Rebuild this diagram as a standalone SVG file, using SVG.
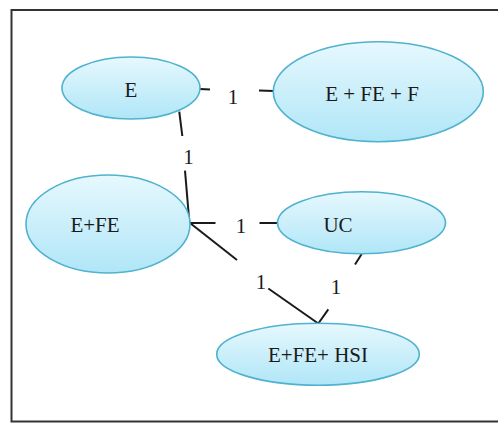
<svg xmlns="http://www.w3.org/2000/svg" width="498" height="424" viewBox="0 0 498 424">
  <defs>
    <linearGradient id="nodeFill" x1="0" y1="0" x2="0" y2="1">
      <stop offset="0" stop-color="#e6f8fe"/>
      <stop offset="1" stop-color="#b0e6f7"/>
    </linearGradient>
    <style>
      .node { fill: url(#nodeFill); stroke: #4fb2cf; stroke-width: 1.6; }
      .label { font-family: "Liberation Serif", "Times New Roman", serif; font-size: 21px; fill: #1a1a1a; text-anchor: middle; }
      .edge { stroke: #1a1a1a; stroke-width: 2; fill: none; stroke-linecap: butt; }
      .weight { font-family: "Liberation Serif", "Times New Roman", serif; font-size: 21px; fill: #1a1a1a; text-anchor: middle; }
      .frame { fill: #ffffff; stroke: #333333; stroke-width: 2; }
    </style>
  </defs>

  <rect x="0" y="0" width="498" height="424" fill="#ffffff"/>
  <rect class="frame" x="11.5" y="10" width="500" height="411.5"/>

  <!-- connectors with their weights -->
  <g id="connectors">
    <line class="edge" x1="200" y1="89" x2="210" y2="89.5"/>
    <line class="edge" x1="259" y1="90.5" x2="274" y2="91"/>
    <text class="weight" x="233" y="104">1</text>

    <line class="edge" x1="179.3" y1="111.7" x2="182.3" y2="136"/>
    <line class="edge" x1="185" y1="170.7" x2="189.5" y2="224"/>
    <text class="weight" x="188.5" y="164">1</text>

    <line class="edge" x1="190" y1="223" x2="215.5" y2="223"/>
    <line class="edge" x1="259.5" y1="223" x2="277.5" y2="223"/>
    <text class="weight" x="241" y="232.5">1</text>

    <line class="edge" x1="190" y1="223" x2="237" y2="260"/>
    <line class="edge" x1="268.3" y1="288.5" x2="318.3" y2="323.5"/>
    <text class="weight" x="261" y="289">1</text>

    <line class="edge" x1="361.7" y1="254" x2="355" y2="264.5"/>
    <line class="edge" x1="328.3" y1="309.3" x2="318.3" y2="323.5"/>
    <text class="weight" x="336" y="294">1</text>
  </g>

  <g id="node-e">
    <ellipse class="node" cx="131" cy="88" rx="69" ry="31"/>
    <text class="label" x="131" y="96.5">E</text>
  </g>

  <g id="node-e-fe-f">
    <ellipse class="node" cx="378.3" cy="91.7" rx="105" ry="50"/>
    <text class="label" x="372" y="101">E + FE + F</text>
  </g>

  <g id="node-e-fe">
    <ellipse class="node" cx="108" cy="224" rx="82" ry="49"/>
    <text class="label" x="95" y="231.5">E+FE</text>
  </g>

  <g id="node-uc">
    <ellipse class="node" cx="361.5" cy="222.8" rx="84" ry="31"/>
    <text class="label" x="338" y="231.5">UC</text>
  </g>

  <g id="node-e-fe-hsi">
    <ellipse class="node" cx="318" cy="354.2" rx="101.3" ry="31"/>
    <text class="label" x="318" y="362.3">E+FE+ HSI</text>
  </g>
</svg>
